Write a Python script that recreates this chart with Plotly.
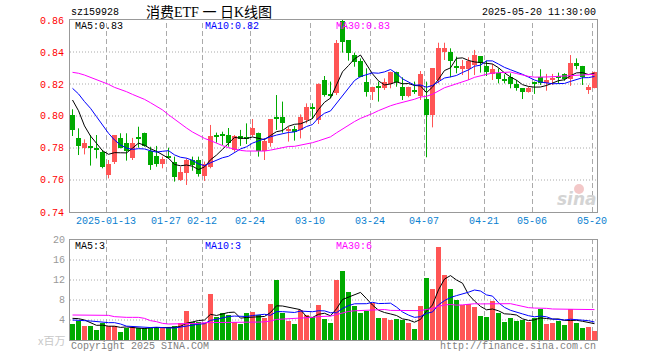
import plotly.graph_objects as go
import numpy as np
import pandas as pd

# ---------------- data ----------------
holidays = ["2025-01-01", "2025-01-28", "2025-01-29", "2025-01-30", "2025-01-31",
            "2025-02-03", "2025-02-04", "2025-04-04", "2025-05-01", "2025-05-02", "2025-05-05"]
dates = [d.strftime("%Y-%m-%d") for d in pd.bdate_range("2025-01-03", "2025-05-20")
         if d.strftime("%Y-%m-%d") not in holidays]

opens = [.8006, .7863, .7802, .7813, .7802, .7775, .7631, .7715, .7863, .7831,
         .7735, .7863, .7892, .7781, .7750, .7700, .7750, .7715, .7600, .7646,
         .7725, .7725, .7627, .7683, .7875, .7881, .7881, .7788, .7875, .7871,
         .7881, .7892, .7781, .7833, .7996, .7996, .7908, .7917, .7913, .7975,
         .8058, .7975, .8225, .8131, .8142, .8596, .8475, .8381, .8346, .8215,
         .8152, .8179, .8177, .8200, .8277, .8183, .8125, .8158, .8125, .8106,
         .8006, .8225, .8402, .8402, .8308, .8296, .8296, .8319, .8375, .8313,
         .8263, .8271, .8225, .8242, .8200, .8173, .8152, .8204, .8246, .8208,
         .8229, .8246, .8263, .8229, .8329, .8313, .8163, .8173]
highs = [.8042, .7923, .7854, .7881, .7881, .7788, .7725, .7881, .7892, .7892,
         .7863, .7933, .7896, .7808, .7813, .7746, .7802, .7746, .7683, .7735,
         .7746, .7746, .7715, .7944, .7896, .7902, .7925, .7881, .7913, .7954,
         .7981, .7896, .7860, .7981, .8131, .8090, .7933, .7938, .8010, .8079,
         .8079, .8204, .8250, .8215, .8475, .8600, .8475, .8396, .8360, .8298,
         .8183, .8215, .8235, .8277, .8277, .8242, .8183, .8215, .8281, .8215,
         .8298, .8458, .8458, .8423, .8371, .8350, .8367, .8413, .8375, .8346,
         .8325, .8298, .8260, .8267, .8225, .8173, .8183, .8215, .8292, .8263,
         .8263, .8271, .8267, .8381, .8360, .8313, .8194, .8277]
lows = [.7875, .7756, .7760, .7690, .7735, .7673, .7610, .7700, .7798, .7721,
        .7725, .7802, .7808, .7663, .7683, .7673, .7735, .7590, .7594, .7569,
        .7658, .7621, .7594, .7673, .7833, .7819, .7808, .7777, .7813, .7825,
        .7871, .7746, .7725, .7808, .7913, .7896, .7840, .7846, .7860, .7954,
        .7981, .7950, .8121, .8110, .8131, .8396, .8346, .8308, .8242, .8121,
        .8100, .8090, .8163, .8173, .8183, .8100, .8117, .8138, .8100, .7742,
        .7929, .8204, .8350, .8242, .8267, .8256, .8225, .8256, .8271, .8250,
        .8225, .8204, .8204, .8173, .8158, .8106, .8146, .8138, .8194, .8158,
        .8194, .8200, .8221, .8188, .8292, .8194, .8138, .8173]
closes = [.7913, .7813, .7829, .7806, .7785, .7683, .7700, .7881, .7802, .7781,
          .7831, .7858, .7813, .7694, .7700, .7733, .7742, .7617, .7652, .7725,
          .7694, .7638, .7700, .7875, .7871, .7877, .7833, .7875, .7854, .7858,
          .7923, .7781, .7846, .7981, .7979, .7958, .7917, .7906, .7996, .8054,
          .8048, .8200, .8131, .8127, .8458, .8465, .8396, .8340, .8246, .8152,
          .8183, .8175, .8215, .8277, .8215, .8125, .8183, .8154, .8263, .8006,
          .8298, .8427, .8427, .8346, .8304, .8313, .8346, .8381, .8329, .8277,
          .8292, .8229, .8221, .8200, .8177, .8152, .8173, .8200, .8204, .8225,
          .8233, .8242, .8229, .8329, .8315, .8242, .8179, .8273]
volumes = [3.2, 3.87, 2.8, 2.8, 2.0, 3.4, 2.8, 2.8, 1.6, 2.47,
           2.67, 2.33, 2.33, 2.5, 2.67, 2.33, 2.33, 2.8, 3.5, 5.8,
           3.67, 3.67, 3.33, 9.2, 4.67, 5.33, 5.0, 3.67, 3.2, 5.33,
           5.53, 5.0, 4.47, 7.2, 12.0, 5.33, 3.8, 3.2, 6.0, 5.0,
           4.53, 7.0, 4.2, 3.47, 12.0, 13.8, 9.6, 6.8, 5.4, 5.8,
           7.33, 4.47, 4.47, 4.0, 4.2, 4.0, 3.4, 2.2, 6.8, 12.4,
           10.2, 18.6, 13.0, 10.2, 8.0, 7.0, 7.2, 6.6, 4.8, 4.6,
           7.8, 5.4, 3.6, 4.4, 3.8, 4.0, 3.6, 4.4, 6.27, 3.2,
           3.4, 3.8, 3.0, 6.13, 3.4, 2.4, 2.6, 1.8]

ma5_head = [.8100, .8033, .7938, .7875]
ma10_head = [.8173, .8138, .8090, .8048, .7996, .7944, .7892, .7850, .7819]
ma30_head = [.8273, .8267, .8256, .8242, .8229, .8215, .8198, .8179, .8167, .8152,
             .8135, .8121, .8104, .8083, .8063, .8038, .8008, .7979, .7950, .7925,
             .7900, .7879, .7860, .7846, .7829, .7815, .7802, .7792, .7785]
vma5_head = [4.33, 4.27, 4.0, 3.47]
vma10_head = [4.0, 4.0, 3.87, 3.8, 3.67, 3.53, 3.47, 3.47, 3.2]
vma30_head = [5.0, 5.0, 5.0, 5.0, 5.0, 5.0, 4.93, 4.67, 4.53, 4.53,
              4.53, 4.53, 4.33, 3.87, 3.67, 3.33, 3.2, 3.2, 3.2, 3.2,
              3.2, 3.33, 3.47, 3.47, 3.47, 3.47, 3.47, 3.47, 3.47]

tick_dates = ["2025-01-13", "2025-01-27", "2025-02-12", "2025-02-24", "2025-03-10",
              "2025-03-24", "2025-04-07", "2025-04-21", "2025-05-06", "2025-05-20"]
tick_labels = ["2025-01-13", "01-27", "02-12", "02-24", "03-10",
               "03-24", "04-07", "04-21", "05-06", "05-20"]
price_ticks = [0.86, 0.84, 0.82, 0.80, 0.78, 0.76, 0.74]
vol_ticks = [20, 16, 12, 8, 4]

title_text = "消费ETF 一 日K线图"
code_text = "sz159928"
time_text = "2025-05-20 11:30:00"
price_legend = [("MA5:0.83", "#000000"), ("MA10:0.82", "#0000ff"), ("MA30:0.83", "#ff00ff")]
vol_legend = [("MA5:3", "#000000"), ("MA10:3", "#0000ff"), ("MA30:6", "#ff00ff")]

# ---------------- derived ----------------
n = len(dates)
idx = np.arange(n)
o, h, l, c = map(np.array, (opens, highs, lows, closes))
v = np.array(volumes)


def ma(series, w, head):
    out = pd.Series(series).rolling(w).mean().to_numpy()
    out[:len(head)] = head
    return out


ma5, ma10, ma30 = ma(c, 5, ma5_head), ma(c, 10, ma10_head), ma(c, 30, ma30_head)
vma5, vma10, vma30 = ma(v, 5, vma5_head), ma(v, 10, vma10_head), ma(v, 30, vma30_head)

RED, GREEN = "#ff5555", "#00aa00"
up = c >= o
colors = [RED if u else GREEN for u in up]

# ---------------- geometry ----------------
W, H = 660, 360
L, R, T, B = 70, 63, 20, 20
PW, PH = W - L - R, H - T - B
SLOT = 6.0
x0 = -0.4167
xr = [x0, x0 + PW / SLOT]


def px(xp):
    return (xp - L) / PW


def py(yp):
    return (H - B - yp) / PH


fig = go.Figure()

# candle wicks
for flag, col in ((True, RED), (False, GREEN)):
    xs, ys = [], []
    for i in idx[up == flag]:
        xs += [i, i, None]
        ys += [l[i], h[i], None]
    fig.add_trace(go.Scatter(x=xs, y=ys, mode="lines", line=dict(color=col, width=1),
                             hoverinfo="skip", showlegend=False, xaxis="x", yaxis="y"))

# candle bodies
body_base = np.minimum(o, c)
body_h = np.maximum(np.abs(c - o), 0.0007)
fig.add_trace(go.Bar(x=idx, y=body_h, base=body_base, width=5 / SLOT,
                     marker=dict(color=colors, line=dict(width=0)),
                     showlegend=False, xaxis="x", yaxis="y"))

for arr, col in ((ma5, "#000000"), (ma10, "#0000ff"), (ma30, "#ff00ff")):
    fig.add_trace(go.Scatter(x=idx, y=arr, mode="lines", line=dict(color=col, width=1),
                             showlegend=False, xaxis="x", yaxis="y"))

# volume
fig.add_trace(go.Bar(x=idx, y=v, width=5 / SLOT,
                     marker=dict(color=colors, line=dict(width=0)),
                     showlegend=False, xaxis="x2", yaxis="y2"))
for arr, col in ((vma5, "#000000"), (vma10, "#0000ff"), (vma30, "#ff00ff")):
    fig.add_trace(go.Scatter(x=idx, y=arr, mode="lines", line=dict(color=col, width=1),
                             showlegend=False, xaxis="x2", yaxis="y2"))

GRID = "#aaaaaa"
BORDER = "#999999"
shapes = []
tick_idx = [dates.index(d) for d in tick_dates]
for ti in tick_idx:
    for xa, ya in (("x", "y"), ("x2", "y2")):
        shapes.append(dict(type="line", xref=xa, yref=ya + " domain", x0=ti - 0.333, x1=ti - 0.333,
                           y0=0, y1=1, layer="below", line=dict(color=GRID, width=1, dash="5px,3px")))
for p in price_ticks[1:-1]:
    shapes.append(dict(type="line", xref="x domain", yref="y", x0=0, x1=1, y0=p, y1=p,
                       layer="below", line=dict(color=GRID, width=1, dash="1px,2px")))
for t in vol_ticks[1:]:
    shapes.append(dict(type="line", xref="x2 domain", yref="y2", x0=0, x1=1, y0=t, y1=t,
                       layer="below", line=dict(color=GRID, width=1, dash="1px,2px")))

MONO = "Liberation Mono, DejaVu Sans Mono, monospace"
ann = []


def text(s, xp, yp, color="#000000", size=10, anchor="left", family=MONO):
    ann.append(dict(text=s, xref="paper", yref="paper", x=px(xp), y=py(yp), xanchor=anchor,
                    yanchor="middle", showarrow=False, borderpad=0,
                    font=dict(family=family, size=size, color=color)))


text(code_text, 70, 13)
text(title_text, 209, 12, size=14, anchor="center",
     family="Liberation Serif, Noto Sans CJK SC, serif")
text(time_text, 597, 13, anchor="right")
for p in price_ticks:
    text(f"{p:.2f}", 65, T + (0.86 - p) * 1600 + 1, color="#ff0000", anchor="right")
for (s, col), xp in zip(price_legend, (74, 204, 335)):
    text(s, xp, 26, color=col)
for ti, lab in zip(tick_idx, tick_labels):
    xpix = L + (ti - x0) * SLOT - 3
    text(lab, xpix, 221, color="#0a7fd0", anchor="center")
for t in vol_ticks:
    text(str(t), 66, 340 - t * 5, color="#999999", anchor="right")
text("x百万", 66, 340, color="#c8c8c8", size=11, anchor="right",
     family="Noto Sans CJK SC, sans-serif")
for (s, col), xp in zip(vol_legend, (74, 204, 335)):
    text(s, xp, 246, color=col)
text("Copyright 2025 SINA.COM", 70, 346, color="#808080")
text("http://finance.sina.com.cn", 597, 346, color="#808080", anchor="right")
text("<b><i>sina</i></b>", 577, 199, color="#d4d4d4", size=17, anchor="center",
     family="DejaVu Sans, sans-serif")
shapes.append(dict(type="circle", xref="paper", yref="paper", x0=px(574), x1=px(584),
                   y0=py(194), y1=py(184), line=dict(width=0), fillcolor="#f3c8c8", layer="below"))

axis_common = dict(showline=True, linecolor=BORDER, linewidth=1, mirror=True,
                   showgrid=False, zeroline=False, ticks="", showticklabels=False, fixedrange=True)
fig.update_layout(
    width=W, height=H, margin=dict(l=L, r=R, t=T, b=B),
    paper_bgcolor="#ffffff", plot_bgcolor="#ffffff",
    showlegend=False, barmode="overlay", bargap=0,
    xaxis=dict(range=xr, domain=[0, 1], anchor="y", **axis_common),
    yaxis=dict(range=[0.74, 0.86], domain=[(H - B - 212) / PH, 1], anchor="x", **axis_common),
    xaxis2=dict(range=xr, domain=[0, 1], anchor="y2", **axis_common),
    yaxis2=dict(range=[0, 20], domain=[0, (H - B - 240) / PH], anchor="x2", **axis_common),
    shapes=shapes, annotations=ann,
)

fig.write_html("out.html", config={"displayModeBar": False},
               post_script="document.body.style.margin='0';document.body.style.overflow='hidden';")
